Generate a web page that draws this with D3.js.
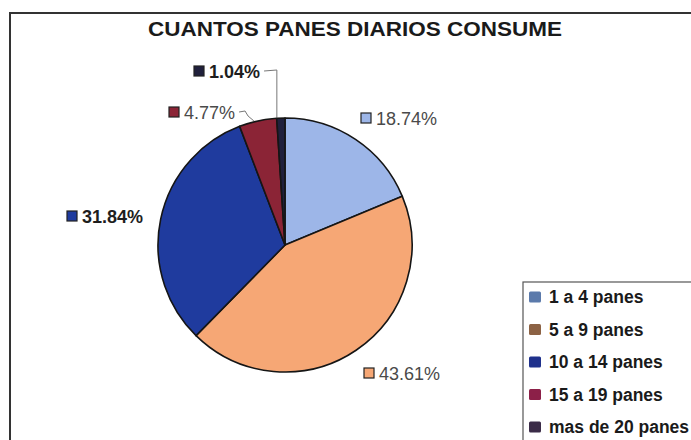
<!DOCTYPE html>
<html>
<head>
<meta charset="utf-8">
<script src="https://cdn.jsdelivr.net/npm/d3@7"></script>
<style>
  html, body { margin: 0; padding: 0; background: #fff; }
  svg { display: block; font-family: "Liberation Sans", Arial, sans-serif; }
</style>
</head>
<body>
<svg id="chart" width="691" height="440"></svg>
<script>
// Daily bread consumption shares
const titleText = "CUANTOS PANES DIARIOS CONSUME";
const categories = ["1 a 4 panes", "5 a 9 panes", "10 a 14 panes", "15 a 19 panes", "mas de 20 panes"];
const shares = [18.74, 43.61, 31.84, 4.77, 1.04];
const sliceColors = ["#9db6e8", "#f6a775", "#1f3b9e", "#8b2436", "#20203c"];
const legendColors = ["#5b7aab", "#8c6244", "#1f318c", "#8c2048", "#3b2c48"];

const W = 691, H = 440;
const svg = d3.select("#chart");

// outer frame (runs past the right and bottom edges)
svg.append("rect")
  .attr("x", 10).attr("y", 13)
  .attr("width", W + 20).attr("height", H + 20)
  .attr("fill", "#fff").attr("stroke", "#333").attr("stroke-width", 2);

// title
svg.append("text")
  .attr("x", 148).attr("y", 36)
  .attr("textLength", 414).attr("lengthAdjust", "spacingAndGlyphs")
  .attr("font-size", 19.5).attr("font-weight", "bold").attr("fill", "#1a1a1a")
  .text(titleText);

// pie
const cx = 285, cy = 245, R = 127;
const data = categories.map((c, i) => ({ cat: c, value: shares[i], i }));
const pie = d3.pie().sort(null).value(d => d.value);
const arcs = pie(data);
const arc = d3.arc().innerRadius(0).outerRadius(R);
const edge = d3.arc().innerRadius(R).outerRadius(R);

const g = svg.append("g").attr("transform", `translate(${cx},${cy})`);
g.selectAll("path.slice").data(arcs).join("path")
  .attr("class", "slice")
  .attr("d", arc)
  .attr("fill", d => sliceColors[d.data.i])
  .attr("stroke", "#151515").attr("stroke-width", 1.6)
  .attr("stroke-linejoin", "round");

// data labels: offsets of each label's swatch corner from the pie centre
const labelLayout = [
  { dx: 76, dy: -132, weight: "normal", fill: "#4a4a4a", leader: false },
  { dx: 79, dy: 123, weight: "normal", fill: "#4a4a4a", leader: false },
  { dx: -218, dy: -34, weight: "bold", fill: "#1e1e1e", leader: false },
  { dx: -116, dy: -138, weight: "normal", fill: "#4a4a4a", leader: true },
  { dx: -91, dy: -179, weight: "bold", fill: "#1e1e1e", leader: true }
];

const fmt = v => v.toFixed(2) + "%";
arcs.forEach((d, k) => {
  const L = labelLayout[k];
  const sx = cx + L.dx, sy = cy + L.dy;
  const lab = svg.append("g");
  lab.append("rect")
    .attr("x", sx).attr("y", sy).attr("width", 10).attr("height", 10)
    .attr("fill", sliceColors[d.data.i]).attr("stroke", "#222").attr("stroke-width", 1.2);
  const t = lab.append("text")
    .attr("x", sx + 15).attr("y", sy + 11.5)
    .attr("font-size", 18).attr("font-weight", L.weight).attr("fill", L.fill)
    .text(fmt(d.data.value));
  if (L.leader) {
    const tw = t.node().getComputedTextLength();
    const ex = sx + 15 + tw + 4, ey = sy + 5;
    const [px, py] = edge.centroid(d);
    const ax = cx + px, ay = cy + py;
    let pts;
    if (k === 4) {
      pts = [[ex, ey], [ax - 4, ey - 1], [ax - 4, ay]];
    } else {
      pts = [[ex, ey], [ex + 6, ey - 1], [ex + 9, ey + 4], [ax - 4, ay]];
    }
    svg.append("path")
      .attr("d", d3.line()(pts))
      .attr("fill", "none").attr("stroke", "#777").attr("stroke-width", 1);
  }
});

// legend box (runs past the right and bottom edges)
const lg = svg.append("g");
lg.append("rect")
  .attr("x", 523).attr("y", 282).attr("width", 200).attr("height", 200)
  .attr("fill", "#fff").attr("stroke", "#555").attr("stroke-width", 1.2);

const ly = d3.scalePoint().domain(categories).range([297, 427]);
categories.forEach((c, i) => {
  lg.append("rect")
    .attr("x", 529).attr("y", ly(c) - 5.5).attr("width", 12).attr("height", 11)
    .attr("rx", 1.5)
    .attr("fill", legendColors[i]);
  lg.append("text")
    .attr("x", 549).attr("y", ly(c) + 6)
    .attr("font-size", 17.5).attr("font-weight", "bold").attr("fill", "#1a1a1a")
    .text(c);
});
</script>
</body>
</html>
